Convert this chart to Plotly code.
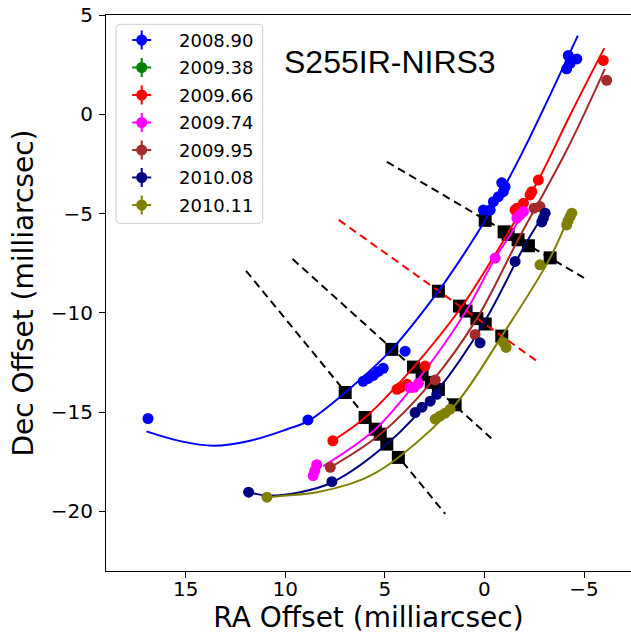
import plotly.graph_objects as go

# ---------------- data (milliarcsec) ----------------
series_names = ["2008.90", "2009.38", "2009.66", "2009.74", "2009.95", "2010.08", "2010.11"]
series_colors = ["#0000ff", "#008000", "#ff0000", "#ff00ff", "#a52a2a", "#000080", "#808000"]

# observed spot positions
blue_x = [16.89, 8.86, 6.09, 5.84, 5.58, 5.33, 5.08, 3.98, 0.05, -0.29, -0.45, -0.70, -0.95, -1.04, -0.87, -4.21, -4.64, -4.13, -4.30]
blue_y = [-15.32, -15.39, -13.45, -13.30, -13.15, -12.95, -12.79, -11.93, -4.82, -4.82, -4.40, -4.15, -3.90, -3.65, -3.45, 2.96, 2.79, 2.29, 2.56]
green_x = []
green_y = []
red_x = [7.61, 4.39, 4.23, 3.89, 2.98, -1.54, -1.63, -1.96, -2.29, -2.38, -2.71, -5.97]
red_y = [-16.44, -13.85, -13.76, -13.60, -12.68, -4.82, -4.73, -4.48, -4.06, -3.90, -3.31, 2.71]
magenta_x = [8.60, 8.52, 8.42, 3.73, 3.53, 3.31, -0.54, -1.63, -1.79, -1.96]
magenta_y = [-18.20, -17.95, -17.65, -13.76, -13.75, -13.55, -7.24, -5.23, -5.07, -4.90]
brown_x = [7.74, 2.47, 0.47, -2.49, -2.79, -6.14]
brown_y = [-17.78, -13.38, -11.09, -4.73, -4.65, 1.71]
navy_x = [11.84, 7.66, 3.48, 3.13, 2.72, 2.39, 0.22, -1.54, -3.05, -2.96, -2.88]
navy_y = [-19.03, -18.50, -15.02, -14.75, -14.45, -14.10, -11.51, -7.41, -4.98, -5.23, -5.42]
olive_x = [10.92, 2.47, 2.23, 1.97, 1.72, -0.96, -1.09, -2.79, -4.39, -4.30, -4.20, -4.13]
olive_y = [-19.28, -15.35, -15.20, -15.05, -14.85, -11.49, -11.74, -7.58, -4.98, -5.15, -5.37, -5.57]

# fitted arc curves
blue_fit_x = [16.97, 15.27, 13.61, 11.76, 9.91, 8.86, 6.99, 4.65, 2.31, 1.22, -0.04, -1.71, -4.69]
blue_fit_y = [-15.97, -16.46, -16.69, -16.44, -15.86, -15.45, -14.01, -11.84, -8.91, -7.33, -5.34, -2.31, 3.96]
red_fit_x = [7.61, 5.99, 3.56, 1.17, -0.37, -1.17, -2.71, -4.30, -6.02]
red_fit_y = [-16.44, -15.27, -12.73, -9.73, -7.33, -6.00, -3.31, -0.05, 3.33]
magenta_fit_x = [8.10, 5.48, 3.13, 0.92, -0.54, -1.31, -1.96]
magenta_fit_y = [-17.72, -15.86, -13.10, -9.91, -7.24, -6.05, -4.90]
brown_fit_x = [7.74, 5.23, 2.67, 0.38, -1.69, -4.13, -6.05]
brown_fit_y = [-17.78, -16.11, -13.50, -10.29, -6.32, -1.81, 2.29]
navy_fit_x = [11.84, 10.92, 9.25, 7.63, 4.90, 2.31, 0.04, -2.07, -2.96]
navy_fit_y = [-19.03, -19.20, -19.03, -18.53, -16.61, -13.85, -10.52, -6.52, -5.07]
olive_fit_x = [10.92, 9.91, 8.41, 6.74, 5.73, 4.32, 1.47, -0.87, -3.30, -4.35]
olive_fit_y = [-19.28, -19.20, -19.03, -18.61, -18.20, -17.28, -14.63, -11.17, -7.23, -4.85]

# intersections of the arcs with the cuts
cross_x = [6.99, 5.99, 5.48, 5.23, 4.90, 4.32, 4.65, 3.56, 3.13, 2.67, 2.31, 1.47,
           2.31, 1.25, 0.92, 0.38, -0.04, -0.87, -0.04, -0.99, -1.19, -1.69, -2.21, -3.30]
cross_y = [-14.01, -15.27, -15.86, -16.11, -16.61, -17.28, -11.84, -12.73, -13.10, -13.50, -13.85, -14.63,
           -8.91, -9.66, -9.91, -10.29, -10.56, -11.17, -5.34, -5.92, -6.05, -6.32, -6.62, -7.23]

# cuts (start, end)
cut_black_x = [[11.97, 1.97], [9.63, -0.34], [4.90, -5.00]]
cut_black_y = [[-7.88, -20.12], [-7.29, -16.31], [-2.39, -8.24]]
cut_red_x = [7.31, -2.68]
cut_red_y = [-5.32, -12.46]

x_ticks = [15, 10, 5, 0, -5]
x_ticklabels = ["15", "10", "5", "0", "\u22125"]
y_ticks = [5, 0, -5, -10, -15, -20]
y_ticklabels = ["5", "0", "\u22125", "\u221210", "\u221215", "\u221220"]

points = [(blue_x, blue_y), (green_x, green_y), (red_x, red_y), (magenta_x, magenta_y),
          (brown_x, brown_y), (navy_x, navy_y), (olive_x, olive_y)]
fits = [(blue_fit_x, blue_fit_y, series_colors[0]), (red_fit_x, red_fit_y, series_colors[2]),
        (magenta_fit_x, magenta_fit_y, series_colors[3]), (brown_fit_x, brown_fit_y, series_colors[4]),
        (navy_fit_x, navy_fit_y, series_colors[5]), (olive_fit_x, olive_fit_y, series_colors[6])]

FONT = "DejaVu Sans"
fig = go.Figure()

# squares
fig.add_trace(go.Scatter(x=cross_x, y=cross_y, mode="markers",
                         marker=dict(symbol="square", size=13, color="black"),
                         showlegend=False, hoverinfo="skip"))
# cuts
for cx, cy in zip(cut_black_x, cut_black_y):
    fig.add_trace(go.Scatter(x=cx, y=cy, mode="lines",
                             line=dict(color="black", width=2, dash="8px,5px"),
                             showlegend=False, hoverinfo="skip"))
fig.add_trace(go.Scatter(x=cut_red_x, y=cut_red_y, mode="lines",
                         line=dict(color="red", width=2, dash="8px,5px"),
                         showlegend=False, hoverinfo="skip"))
# arcs
for fx, fy, col in fits:
    fig.add_trace(go.Scatter(x=fx, y=fy, mode="lines",
                             line=dict(color=col, width=2, shape="spline", smoothing=1.0),
                             showlegend=False, hoverinfo="skip"))
# spots
for (px, py), col, name in zip(points, series_colors, series_names):
    if px:
        fig.add_trace(go.Scatter(x=px, y=py, mode="markers", name=name,
                                 marker=dict(symbol="circle", size=11, color=col),
                                 showlegend=False))

# ---- legend drawn on an overlay axis in pixel units of the plot area ----
PW, PH = 525, 556
leg_y = [25 + 27.5 * i for i in range(len(series_names))]
for name, col, ly in zip(series_names, series_colors, leg_y):
    fig.add_trace(go.Scatter(x=[35.7], y=[ly], mode="markers", xaxis="x2", yaxis="y2",
                             marker=dict(symbol="circle", size=11, color=col),
                             error_x=dict(type="data", array=[9.5], color=col, thickness=2, width=0),
                             error_y=dict(type="data", array=[9.5], color=col, thickness=2, width=0),
                             showlegend=False, hoverinfo="skip"))
    fig.add_annotation(x=71.3, y=ly, xref="x2", yref="y2", text=name, showarrow=False,
                       xanchor="left", yanchor="middle", font=dict(family=FONT, size=18, color="black"))

x0, y0, x1, y1, r = 10, 9.3, 156.7, 208.3, 4
path = (f"M {x0+r},{y0} L {x1-r},{y0} Q {x1},{y0} {x1},{y0+r} L {x1},{y1-r} Q {x1},{y1} {x1-r},{y1} "
        f"L {x0+r},{y1} Q {x0},{y1} {x0},{y1-r} L {x0},{y0+r} Q {x0},{y0} {x0+r},{y0} Z")
fig.add_shape(type="path", path=path, xref="x2", yref="y2", layer="below",
              line=dict(color="#cccccc", width=1), fillcolor="rgba(255,255,255,0.8)")

fig.add_annotation(x=284, y=47, xref="x2", yref="y2", text="S255IR-NIRS3", showarrow=False,
                   xanchor="center", yanchor="middle",
                   font=dict(family="Liberation Sans", size=32, color="black"))

axis_common = dict(showgrid=False, zeroline=False, showline=True, linecolor="black", linewidth=1,
                   mirror=True, ticks="outside", ticklen=6, tickwidth=1, tickcolor="black",
                   automargin=False,
                   tickfont=dict(family=FONT, size=20, color="black"))

fig.update_layout(
    width=631, height=639,
    margin=dict(l=106, r=0, t=15, b=68),
    paper_bgcolor="white", plot_bgcolor="white",
    showlegend=False,
    xaxis=dict(range=[19, -7.36], tickvals=x_ticks, ticktext=x_ticklabels,
               ticklabelstandoff=-6,
               title=dict(text="RA Offset (milliarcsec)", font=dict(family=FONT, size=28, color="black"),
                          standoff=0),
               **axis_common),
    yaxis=dict(range=[-23, 5], tickvals=y_ticks, ticktext=y_ticklabels,
               ticklabelstandoff=2,
               title=dict(text="Dec Offset (milliarcsec)", font=dict(family=FONT, size=28, color="black"),
                          standoff=8),
               **axis_common),
    xaxis2=dict(range=[0, PW], overlaying="x", anchor="y2", visible=False, fixedrange=True),
    yaxis2=dict(range=[PH, 0], overlaying="y", anchor="x2", visible=False, fixedrange=True),
)

fig.write_html("out.html", config={"displayModeBar": False},
               post_script="document.body.style.margin='0px';")
